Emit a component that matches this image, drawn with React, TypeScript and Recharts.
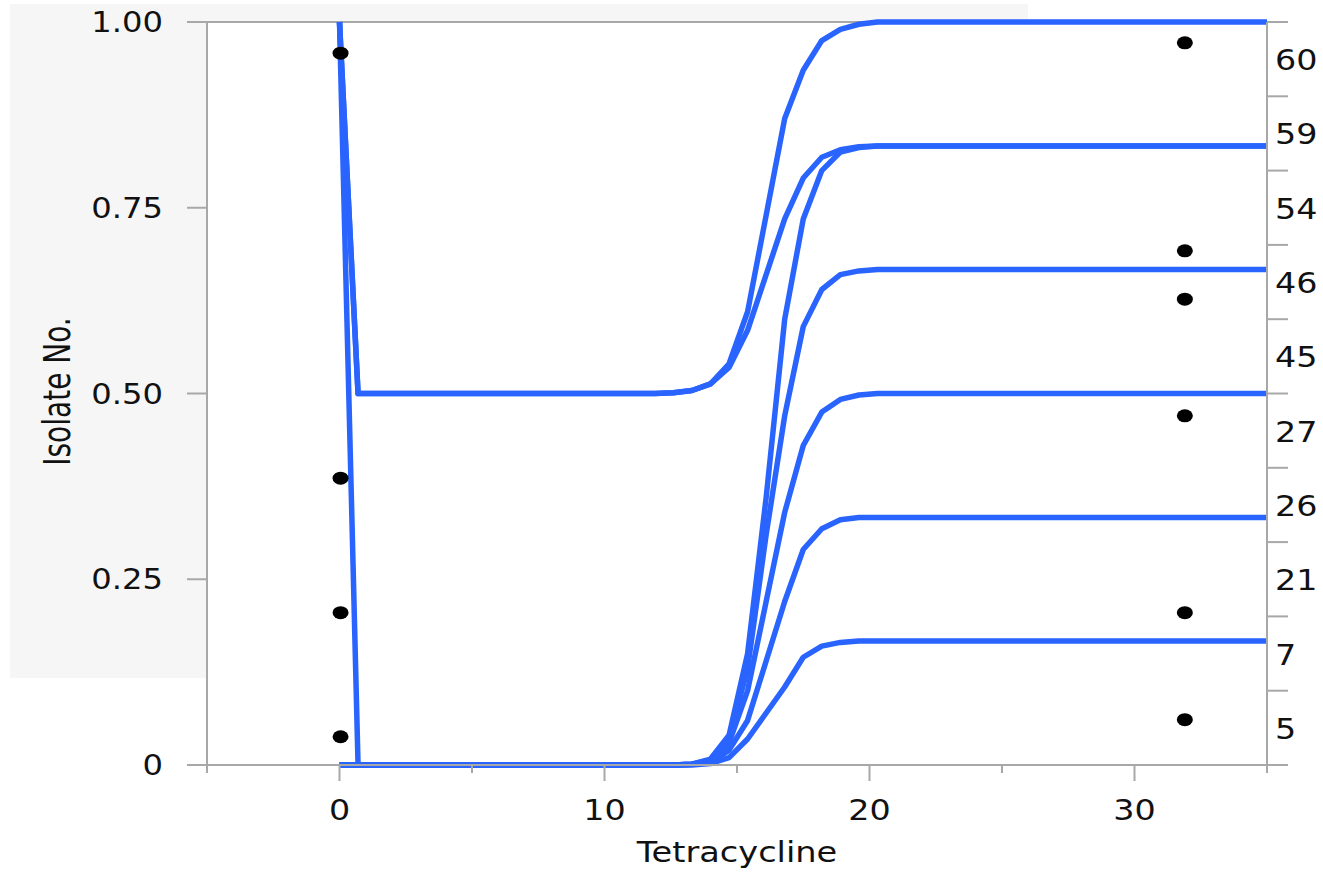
import React from 'react';
import {
  ComposedChart,
  Line,
  Scatter,
  XAxis,
  YAxis,
  CartesianGrid,
  ReferenceLine,
} from 'recharts';

// tetracycline levels the fitted curves are read at
const doseGrid = [0, 0.7, 11.9, 12.6, 13.3, 14.0, 14.7, 15.4, 16.1, 16.8, 17.5, 18.2, 18.9, 19.6, 20.3, 21.0, 35];

// cumulative probability curves (one per boundary)
const curveTo100 = [1, 0.5, 0.5, 0.501, 0.504, 0.513, 0.54, 0.61, 0.74, 0.87, 0.935, 0.975, 0.99, 0.997, 1, 1, 1];
const curveTo83a = [1, 0.5, 0.5, 0.501, 0.504, 0.513, 0.535, 0.585, 0.66, 0.735, 0.79, 0.818, 0.828, 0.832, 0.833, 0.833, 0.833];
const curveTo83b = [1, 0, 0, 0, 0.001, 0.008, 0.04, 0.15, 0.36, 0.6, 0.735, 0.8, 0.825, 0.831, 0.833, 0.833, 0.833];
const curveTo67 = [0, 0, 0, 0, 0.001, 0.007, 0.035, 0.13, 0.31, 0.47, 0.59, 0.64, 0.66, 0.665, 0.667, 0.667, 0.667];
const curveTo50 = [0, 0, 0, 0, 0.001, 0.005, 0.03, 0.1, 0.22, 0.34, 0.43, 0.475, 0.492, 0.498, 0.5, 0.5, 0.5];
const curveTo33 = [0, 0, 0, 0, 0.001, 0.003, 0.02, 0.06, 0.14, 0.22, 0.29, 0.318, 0.33, 0.333, 0.333, 0.333, 0.333];
const curveTo17 = [0, 0, 0, 0, 0, 0.002, 0.01, 0.035, 0.07, 0.105, 0.145, 0.16, 0.165, 0.167, 0.167, 0.167, 0.167];

const curves = [curveTo100, curveTo83a, curveTo83b, curveTo67, curveTo50, curveTo33, curveTo17];

// observed isolates
const lowDoseX = 0.04;
const lowDoseY = [0.958, 0.386, 0.205, 0.038];
const highDoseX = 31.9;
const highDoseY = [0.972, 0.692, 0.627, 0.47, 0.205, 0.061];

// right axis, bottom to top
const isolateLabels = ['5', '7', '21', '26', '27', '45', '46', '54', '59', '60'];

const yTicks = [0, 0.25, 0.5, 0.75, 1];
const yTickText = ['0', '0.25', '0.50', '0.75', '1.00'];
const xTicks = [-5, 0, 5, 10, 15, 20, 25, 30, 35];
const xLabeled = [0, 10, 20, 30];

const BLUE = '#2a64ff';
const GRAY = '#a8a8a8';
const FONT = 'DejaVu Sans, sans-serif';
const SX = 1.15;

const points = [
  ...lowDoseY.map((y) => ({ x: lowDoseX, y })),
  ...highDoseY.map((y) => ({ x: highDoseX, y })),
];

const XTick = (props: any) => {
  const { x, y, payload } = props;
  const major = xLabeled.includes(payload.value);
  return (
    <g>
      <line x1={x} y1={y} x2={x} y2={y + (major ? 16 : 8)} stroke={GRAY} strokeWidth={2} />
      {major && (
        <text transform={`translate(${x},${y + 55}) scale(${SX},1)`} textAnchor="middle" fontSize={29} fontFamily={FONT} fill="#111">
          {payload.value}
        </text>
      )}
    </g>
  );
};

const LeftTick = (props: any) => {
  const { x, y, payload } = props;
  const i = yTicks.indexOf(payload.value);
  return (
    <text transform={`translate(${x - 24},${y + 10}) scale(${SX},1)`} textAnchor="end" fontSize={28} fontFamily={FONT} fill="#111">
      {yTickText[i]}
    </text>
  );
};

const RightTick = (props: any) => {
  const { x, y, payload } = props;
  const v = payload.value;
  if (Number.isInteger(v)) {
    return <line x1={x} y1={y} x2={x + 21} y2={y} stroke={GRAY} strokeWidth={2} />;
  }
  return (
    <text transform={`translate(${x + 8},${y + 11}) scale(${SX},1)`} textAnchor="start" fontSize={29} fontFamily={FONT} fill="#111">
      {isolateLabels[Math.floor(v)]}
    </text>
  );
};

const rightTicks = Array.from({ length: 21 }, (_, i) => i / 2);

export default function App() {
  return (
    <div style={{ position: 'absolute', left: 0, top: 0, width: 1323, height: 876, background: '#fff' }}>
      <div style={{ position: 'absolute', left: 10, top: 4, width: 1018, height: 674, background: '#f6f6f6' }} />
      <div style={{ position: 'absolute', left: 0, top: 0 }}>
        <ComposedChart width={1323} height={876} margin={{ top: 22, right: 0, bottom: 0, left: 0 }}>
          <CartesianGrid horizontal={false} vertical={false} fill="#ffffff" />
          <ReferenceLine yAxisId="left" y={1} stroke={GRAY} strokeWidth={2} />
          <XAxis
            type="number"
            dataKey="x"
            domain={[-5, 35]}
            ticks={xTicks}
            interval={0}
            height={111}
            tickLine={false}
            tickSize={0}
            tickMargin={0}
            axisLine={{ stroke: GRAY, strokeWidth: 2 }}
            tick={<XTick />}
            label={{
              value: 'Tetracycline',
              content: (p: any) => {
                const vb = p.viewBox;
                return (
                  <text transform={`translate(${vb.x + vb.width / 2},${vb.y + 97}) scale(1.2,1)`} textAnchor="middle" fontSize={28} fontFamily={FONT} fill="#111">
                    Tetracycline
                  </text>
                );
              },
            }}
          />
          <YAxis
            yAxisId="left"
            type="number"
            domain={[0, 1]}
            ticks={yTicks}
            interval={0}
            width={207}
            tickSize={20}
            tickMargin={0}
            tickLine={{ stroke: GRAY, strokeWidth: 2 }}
            axisLine={{ stroke: GRAY, strokeWidth: 2 }}
            tick={<LeftTick />}
            label={{
              value: 'Isolate No.',
              content: (p: any) => {
                const vb = p.viewBox;
                return (
                  <text transform={`translate(${vb.x + 70},${vb.y + vb.height / 2 - 2}) scale(1.33,1) rotate(-90)`} textAnchor="middle" fontSize={28} fontFamily={FONT} fill="#111">
                    Isolate No.
                  </text>
                );
              },
            }}
          />
          <YAxis
            yAxisId="right"
            orientation="right"
            type="number"
            domain={[0, 10]}
            ticks={rightTicks}
            interval={0}
            allowDataOverflow
            width={56}
            tickSize={0}
            tickMargin={0}
            tickLine={false}
            axisLine={{ stroke: GRAY, strokeWidth: 2 }}
            tick={<RightTick />}
          />
          {curves.map((c, k) => (
            <Line
              key={k}
              yAxisId="left"
              data={doseGrid.map((x, i) => ({ x, y: c[i] }))}
              dataKey="y"
              type="linear"
              stroke={BLUE}
              strokeWidth={5.5}
              strokeLinejoin="round"
              dot={false}
              activeDot={false}
              isAnimationActive={false}
            />
          ))}
          <Scatter
            yAxisId="left"
            data={points}
            dataKey="y"
            fill="#000"
            isAnimationActive={false}
            shape={(p: any) => <ellipse cx={p.cx} cy={p.cy} rx={8} ry={6.5} fill="#000" />}
          />
        </ComposedChart>
      </div>
    </div>
  );
}
